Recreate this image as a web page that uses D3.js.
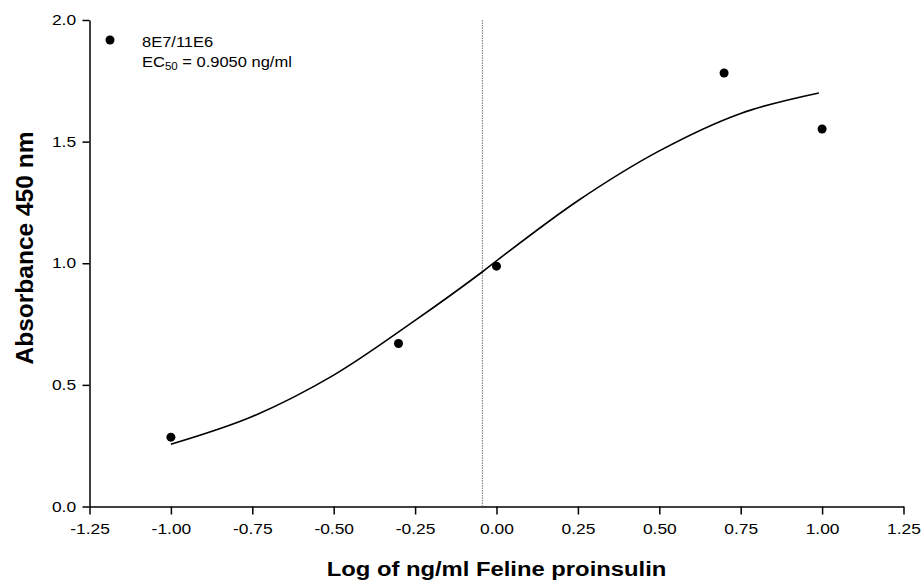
<!DOCTYPE html>
<html>
  <head>
    <meta charset="utf-8">
    <title>Absorbance vs log concentration</title>
    <style media="screen">
      body { margin: 0; background: white; }
      text { font-family: "Liberation Sans", Arial, sans-serif; fill: black; }
      .axis path, .axis line { stroke: black; stroke-width: 1.5; fill: none; }
      .axis text { font-size: 14.5px; }
      .title { font-weight: bold; }
      .fit { fill: none; stroke: black; stroke-width: 1.6; }
      .ec50 { stroke: #777; stroke-width: 1; stroke-dasharray: 1.5 1; }
      .legend text { font-size: 15px; }
    </style>
    <script src="https://d3js.org/d3.v7.min.js"></script>
  </head>
  <body>
    <script type="text/javascript">

      // measured points
      const logConc = [-1.0, -0.301, 0.0, 0.699, 1.0];
      const absorb = [0.285, 0.670, 0.988, 1.782, 1.552];

      // fitted curve
      const curveX = [-1.0, -0.75, -0.5, -0.25, -0.043, 0.0, 0.25, 0.5, 0.75, 0.99];
      const curveY = [0.256, 0.37, 0.54, 0.765, 0.965, 1.01, 1.257, 1.462, 1.616, 1.70];

      const ec50 = 0.9050;
      const xTicks = [-1.25, -1.00, -0.75, -0.50, -0.25, 0.00, 0.25, 0.50, 0.75, 1.00, 1.25];
      const yTicks = [0.0, 0.5, 1.0, 1.5, 2.0];

      const width = 923, height = 581;
      const margin = {top: 20, left: 89.5};

      const x = d3.scaleLinear().domain([-1.25, 1.25]).range([margin.left, 903.5]);
      const y = d3.scaleLinear().domain([0, 2]).range([506.5, margin.top]);

      const fmt2 = d3.format('.2f'), fmt1 = d3.format('.1f');
      const hyphen = s => s.replace('\u2212', '-');

      const svg = d3.select('body').append('svg')
        .attr('width', width)
        .attr('height', height);

      svg.append('g')
        .attr('class', 'x axis')
        .attr('transform', `translate(0, ${y(0)})`)
        .call(d3.axisBottom(x).tickValues(xTicks).tickFormat(d => hyphen(fmt2(d)))
          .tickSize(8).tickSizeOuter(0).tickPadding(9))
        .call(g => g.selectAll('text').attr('transform', 'scale(1.2,1)'));

      svg.append('g')
        .attr('class', 'y axis')
        .attr('transform', `translate(${x(-1.25)}, 0)`)
        .call(d3.axisLeft(y).tickValues(yTicks).tickFormat(d => hyphen(fmt1(d)))
          .tickSize(7).tickSizeOuter(0).tickPadding(4.2))
        .call(g => g.selectAll('text').attr('transform', 'scale(1.2,1)'));

      // EC50 marker
      svg.append('line')
        .attr('class', 'ec50')
        .attr('x1', x(Math.log10(ec50))).attr('x2', x(Math.log10(ec50)))
        .attr('y1', y(2)).attr('y2', y(0));

      const line = d3.line()
        .x(d => x(d[0]))
        .y(d => y(d[1]))
        .curve(d3.curveCatmullRom.alpha(0.5));

      svg.append('path')
        .attr('class', 'fit')
        .attr('d', line(curveX.map((v, i) => [v, curveY[i]])));

      svg.append('g').selectAll('circle')
        .data(logConc.map((v, i) => [v, absorb[i]]))
        .enter()
        .append('circle')
          .attr('cx', d => x(d[0]))
          .attr('cy', d => y(d[1]))
          .attr('r', 4.5)
          .attr('fill', 'black');

      // legend
      const legend = svg.append('g').attr('class', 'legend');
      legend.append('circle').attr('cx', 110).attr('cy', 40).attr('r', 4.5).attr('fill', 'black');
      legend.append('text')
        .attr('transform', 'translate(142, 47) scale(1.1,1)')
        .text('8E7/11E6');
      const ec = legend.append('text')
        .attr('transform', 'translate(142, 67) scale(1.1,1)');
      ec.append('tspan').text('EC');
      ec.append('tspan').attr('font-size', '10.5px').attr('dy', 3).text('50');
      ec.append('tspan').attr('dy', -3).text(' = 0.9050 ng/ml');

      // axis titles
      svg.append('text')
        .attr('class', 'title')
        .attr('font-size', '20px')
        .attr('text-anchor', 'middle')
        .attr('transform', 'translate(496.5, 576) scale(1.19,1)')
        .text('Log of ng/ml Feline proinsulin');

      svg.append('text')
        .attr('class', 'title')
        .attr('font-size', '24.5px')
        .attr('text-anchor', 'middle')
        .attr('transform', 'translate(33, 248) rotate(-90)')
        .text('Absorbance 450 nm');
    </script>
  </body>
</html>
